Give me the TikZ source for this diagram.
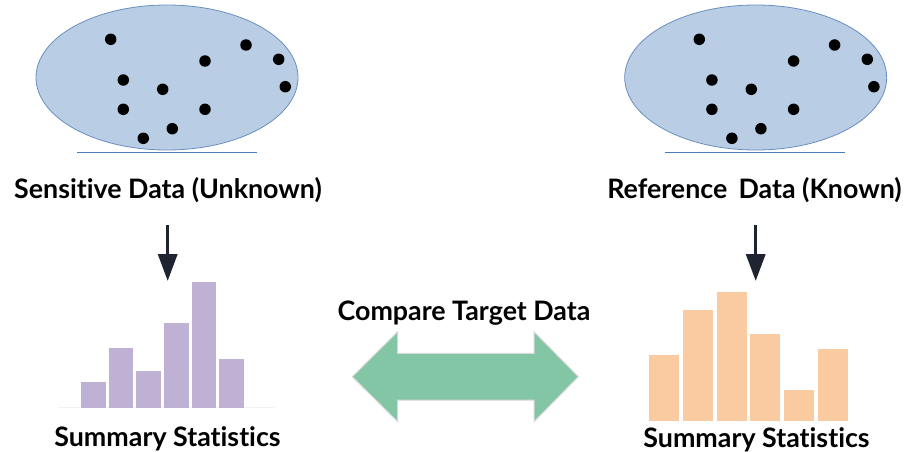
\documentclass[tikz,border=0pt]{standalone}
\usepackage{fontspec}
\setmainfont{Lato}[Ligatures=NoCommon]
\usetikzlibrary{shapes.geometric,arrows.meta}
\definecolor{cloudfill}{HTML}{B9CDE5}
\definecolor{cloudedge}{HTML}{6A8FC1}
\definecolor{floorline}{HTML}{4A7EBB}
\definecolor{lilac}{HTML}{BEB1D3}
\definecolor{peach}{HTML}{FACBA1}
\definecolor{mint}{HTML}{82C6A6}
\definecolor{navy}{HTML}{1F2430}
\tikzset{
  cloud/.style={ellipse, draw=cloudedge, fill=cloudfill, line width=0.8pt,
    minimum width=262pt, minimum height=145pt, inner sep=0pt},
  dot/.style={circle, fill=black, minimum size=11.5pt, inner sep=0pt},
  caption/.style={font=\fontsize{26.8}{30}\selectfont\bfseries, anchor=base, inner sep=0pt},
  flow/.style={draw=navy, line width=3.5pt, -{Triangle[width=19pt,length=27pt]}},
  floor/.style={draw=floorline, line width=1pt},
}
\begin{document}
\begin{tikzpicture}[x=1pt,y=-1pt]
\useasboundingbox[fill=white] (0,0) rectangle (907,452);

% data clouds
\node[cloud] (sens) at (167,77.5) {};
\node[cloud] (ref) at (755.7,77.5) {};
\coordinate (sfl) at (77,152);  \coordinate (sfr) at (257,152);
\coordinate (rfl) at (665,152); \coordinate (rfr) at (845,152);
\draw[floor] (sfl) -- (sfr);
\draw[floor] (rfl) -- (rfr);

\foreach \i/\px/\py in {1/110.7/39.3, 2/123.3/80, 3/123.3/109.3, 4/143.3/138.3,
  5/162.7/89.3, 6/172.3/128.7, 7/205/61, 8/205/109.3, 9/246/45,
  10/278.7/59.3, 11/285.3/86.7}{
  \node[dot] (s\i) at (\px,\py) {};
  \node[dot] (r\i) at (\px+588.6,\py) {};
}

% captions
\node[caption] (senslab) at (168,198.5) {Sensitive Data (Unknown)};
\node[caption] (reflab) at (754.5,198.5) {Reference\hspace{0.42em}Data (Known)};
\node[caption] (sumL) at (167.5,446.7) {Summary Statistics};
\node[caption] (sumR) at (756.5,447.3) {Summary Statistics};
\node[caption] (cmp) at (464,320) {Compare Target Data};

% arrows down to the histograms
\coordinate (aLs) at (167.7,225); \coordinate (aLe) at (167.7,281);
\coordinate (aRs) at (755.7,225); \coordinate (aRe) at (755.7,281);
\draw[flow] (aLs) -- (aLe);
\draw[flow] (aRs) -- (aRe);

% left histogram
\draw[color=black!5, line width=1pt] (58,407.7) -- (275,407.7);
\foreach \a/\b/\t in {81/105.7/382.3, 109/133.3/347.7, 136.3/160.7/371,
  164/188.7/323.3, 191.7/216/282.3, 219.3/244/358.7}{
  \fill[lilac] (\a,407.7) rectangle (\b,\t);
}

% right histogram
\foreach \a/\b/\t in {649.3/679.3/354.7, 682.7/712.7/310, 716.7/746.7/291.7,
  750/780.3/334, 784/814/390, 818/848/349}{
  \fill[peach] (\a,421) rectangle (\b,\t);
}

% comparison arrow
\draw[fill=mint, draw=black!15, line width=1pt]
  (352.3,376.7) -- (397.7,331.7) -- (397.7,353.3) -- (534,353.3) -- (534,331.7)
  -- (578.3,376.7) -- (534,421.7) -- (534,400) -- (397.7,400) -- (397.7,421.7) -- cycle;
\end{tikzpicture}
\end{document}
